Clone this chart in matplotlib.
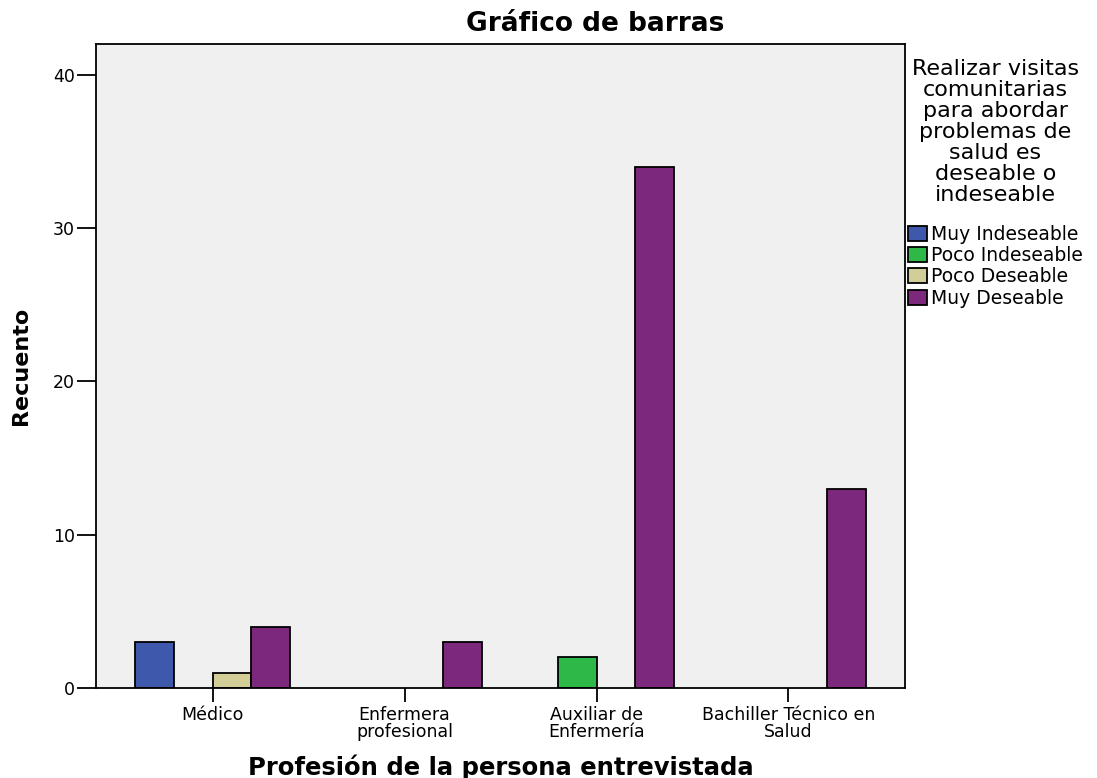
import matplotlib.pyplot as plt
import numpy as np
from matplotlib.patches import Patch

# Data
professions = ['Médico', 'Enfermera\nprofesional', 'Auxiliar de\nEnfermería', 'Bachiller Técnico en\nSalud']
responses = ['Muy Indeseable', 'Poco Indeseable', 'Poco Deseable', 'Muy Deseable']
muy_indeseable = [3, 0, 0, 0]
poco_indeseable = [0, 0, 2, 0]
poco_deseable = [1, 0, 0, 0]
muy_deseable = [4, 3, 34, 13]
colors = ['#3e58ac', '#2eb848', '#d3ce97', '#7c287d']

plt.rcParams['font.family'] = ['DejaVu Sans']

fig = plt.figure(figsize=(10.97, 7.78), dpi=100)
ax = fig.add_axes([0.0875, 0.1157, 0.7375, 0.8277])
ax.set_facecolor('#f0f0f0')

x = np.arange(len(professions))
width = 0.203
series = [muy_indeseable, poco_indeseable, poco_deseable, muy_deseable]
for i, vals in enumerate(series):
    pos = x + (i - 1.5) * width
    for p, v in zip(pos, vals):
        if v > 0:
            ax.bar(p, v, width, color=colors[i], edgecolor='black', linewidth=1.3)

ax.set_xlim(-0.607, 3.607)
ax.set_ylim(0, 42)
ax.set_yticks([0, 10, 20, 30, 40])
ax.set_xticks(x)
ax.set_xticklabels(professions, fontsize=12.5, linespacing=0.9)
ax.tick_params(axis='y', labelsize=12.5, length=14, width=1.3, direction='out', pad=1)
ax.tick_params(axis='x', length=10, width=1.3, direction='out', pad=3)
for s in ax.spines.values():
    s.set_linewidth(1.3)

ax.set_xlabel('Profesión de la persona entrevistada', fontsize=17.5, fontweight='bold', labelpad=10)
ax.set_ylabel('Recuento', fontsize=16, fontweight='bold', labelpad=16)
fig.text(595 / 1097, 1 - 24 / 778, 'Gráfico de barras', fontsize=19, fontweight='bold',
         ha='center', va='center')

handles = [Patch(facecolor=c, edgecolor='black', linewidth=1.3) for c in colors]
leg = fig.legend(handles, responses, loc='upper left', bbox_to_anchor=(904 / 1097, 1 - 55 / 778),
                 frameon=False, fontsize=13.5, title='Realizar visitas\ncomunitarias\npara abordar\nproblemas de\nsalud es\ndeseable o\nindeseable',
                 title_fontsize=16, handlelength=1.05, handleheight=0.85, handletextpad=0.2,
                 labelspacing=0.12, borderpad=0.2, borderaxespad=0)
leg.get_title().set_multialignment('center')
leg.get_title().set_linespacing(1.07)
leg._legend_box.sep = 14

plt.savefig('out.png', dpi=100)
